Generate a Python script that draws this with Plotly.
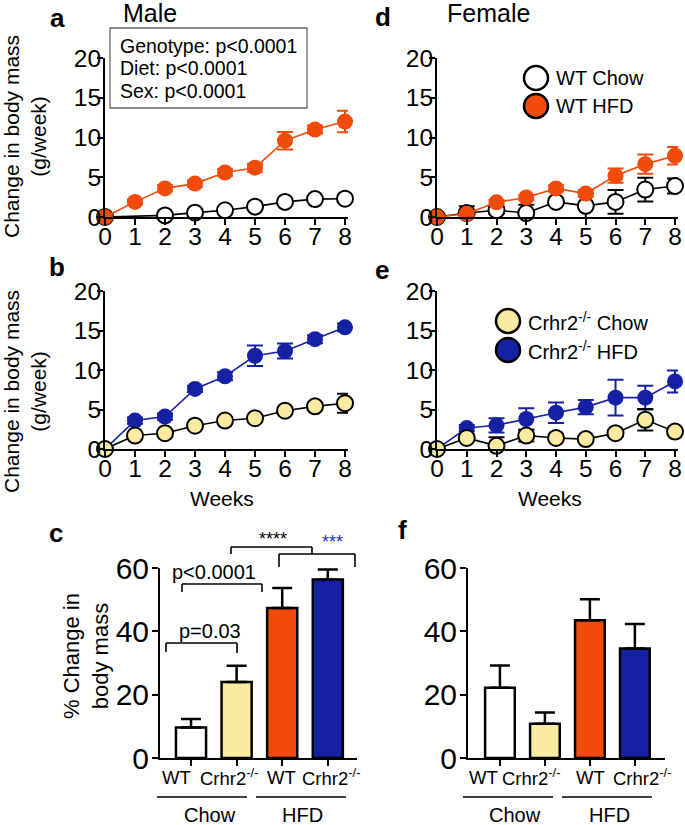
import plotly.graph_objects as go

# ---------------- data ----------------
weeks = [0, 1, 2, 3, 4, 5, 6, 7, 8]

male_wt_chow = [0, None, 0.2, 0.55, 0.85, 1.3, 1.9, 2.25, 2.3]
male_wt_chow_err = [0, 0, 0.2, 0.2, 0.2, 0.3, 0.3, 0.3, 0.4]
male_wt_hfd = [0, 1.9, 3.6, 4.2, 5.6, 6.2, 9.6, 11.0, 12.0]
male_wt_hfd_err = [0, 0.3, 0.4, 0.4, 0.4, 0.5, 1.1, 0.5, 1.35]

male_ko_chow = [0, 1.7, 2.0, 2.95, 3.6, 3.9, 4.85, 5.4, 5.8]
male_ko_chow_err = [0, 0.3, 0.3, 0.3, 0.4, 0.4, 0.4, 0.5, 1.2]
male_ko_hfd = [0, 3.6, 4.1, 7.6, 9.2, 11.8, 12.4, 13.9, 15.4]
male_ko_hfd_err = [0, 0.4, 0.4, 0.4, 0.5, 1.3, 0.95, 0.5, 0.5]

female_wt_chow = [0, 0.5, 0.85, 0.5, 1.9, 1.4, 1.9, 3.45, 3.9]
female_wt_chow_err = [0, 0.85, 0.4, 1.05, 0.4, 1.55, 1.5, 1.5, 0.95]
female_wt_hfd = [0, 0.4, 1.85, 2.45, 3.6, 2.95, 5.2, 6.65, 7.7]
female_wt_hfd_err = [0, 0.3, 0.3, 0.3, 0.4, 0.4, 0.9, 1.2, 1.1]

female_ko_chow = [0, 1.4, 0.4, 1.7, 1.4, 1.25, 2.0, 3.7, 2.2]
female_ko_chow_err = [0, 0.4, 1.1, 0.75, 0.4, 0.4, 0.4, 1.37, 0.4]
female_ko_hfd = [0, 2.65, 3.0, 3.8, 4.6, 5.3, 6.5, 6.5, 8.55]
female_ko_hfd_err = [0, 0.4, 0.9, 1.35, 1.3, 0.9, 2.25, 1.5, 1.4]

bar_groups = ["WT", "Crhr2<sup>-/-</sup>", "WT", "Crhr2<sup>-/-</sup>"]
diet_groups = ["Chow", "HFD"]
male_pct = [9.65, 24.0, 47.4, 56.4]
male_pct_err = [2.7, 5.1, 6.3, 3.1]
female_pct = [22.2, 10.8, 43.5, 34.6]
female_pct_err = [7.0, 3.6, 6.6, 7.7]

week_ticks = [0, 1, 2, 3, 4, 5, 6, 7, 8]
line_yticks = [0, 5, 10, 15, 20]
bar_yticks = [0, 20, 40, 60]

# ---------------- style ----------------
W, H = 685, 825
FONT = "Liberation Sans, Arial, sans-serif"
ORANGE = "#F04B0A"
BLUE = "#1520A3"
YELLOW = "#FAEBA0"
BLACK = "black"


def fx(px):
    return px / W


def fy(py):
    return 1 - py / H


fig = go.Figure()


def line_trace(y, err, xa, ya, fill, line_color, outline, width_err=8):
    return go.Scatter(
        x=weeks, y=y, xaxis=xa, yaxis=ya, mode="lines+markers",
        connectgaps=True, cliponaxis=False, showlegend=False,
        line=dict(color=line_color, width=1.6),
        marker=dict(size=16, color=fill,
                    line=dict(color=outline, width=2 if outline != fill else 0)),
        error_y=dict(type="data", array=err, visible=True, color=line_color,
                     thickness=2, width=width_err),
    )


# a (male WT)
fig.add_trace(line_trace(male_wt_chow, male_wt_chow_err, "x", "y", "white", BLACK, BLACK))
fig.add_trace(line_trace(male_wt_hfd, male_wt_hfd_err, "x", "y", ORANGE, ORANGE, ORANGE))
# b (male KO)
fig.add_trace(line_trace(male_ko_hfd, male_ko_hfd_err, "x2", "y2", BLUE, BLUE, BLUE))
fig.add_trace(line_trace(male_ko_chow, male_ko_chow_err, "x2", "y2", YELLOW, BLACK, BLACK))
# d (female WT)
fig.add_trace(line_trace(female_wt_chow, female_wt_chow_err, "x4", "y4", "white", BLACK, BLACK))
fig.add_trace(line_trace(female_wt_hfd, female_wt_hfd_err, "x4", "y4", ORANGE, ORANGE, ORANGE))
# e (female KO)
fig.add_trace(line_trace(female_ko_hfd, female_ko_hfd_err, "x5", "y5", BLUE, BLUE, BLUE))
fig.add_trace(line_trace(female_ko_chow, female_ko_chow_err, "x5", "y5", YELLOW, BLACK, BLACK))

bar_colors = ["white", YELLOW, ORANGE, BLUE]
for vals, errs, xa, ya in [(male_pct, male_pct_err, "x3", "y3"),
                           (female_pct, female_pct_err, "x6", "y6")]:
    fig.add_trace(go.Bar(
        x=list(range(len(vals))), y=vals, xaxis=xa, yaxis=ya, width=0.66,
        showlegend=False,
        marker=dict(color=bar_colors, line=dict(color=BLACK, width=2.5)),
        error_y=dict(type="data", array=errs, arrayminus=[0] * len(errs),
                     visible=True, color=BLACK, thickness=2.5, width=10),
    ))

axis_common = dict(showline=True, linecolor=BLACK, linewidth=2, ticks="outside",
                   ticklen=6, tickwidth=2, tickcolor=BLACK, showgrid=False,
                   zeroline=False, fixedrange=True, automargin=False,
                   tickfont=dict(size=24.5, color=BLACK, family=FONT))

layout = dict(
    template="none",
    width=W, height=H, autosize=False,
    margin=dict(l=0, r=0, t=0, b=0, pad=0),
    paper_bgcolor="white", plot_bgcolor="white",
    font=dict(family=FONT, color=BLACK),
    showlegend=False,
)

line_panels = {
    "": ((105, 348), (217, 58)),
    "2": ((105, 348), (449, 291)),
    "4": ((437, 678), (217, 58)),
    "5": ((437, 678), (449, 291)),
}
for k, ((x0, x1), (yb, yt)) in line_panels.items():
    layout["xaxis" + k] = dict(axis_common, domain=[fx(x0), fx(x1)], range=[0, 8.1],
                               tickvals=week_ticks, anchor="y" + k, ticklabelstandoff=-9)
    layout["yaxis" + k] = dict(axis_common, domain=[fy(yb), fy(yt)], range=[0, 20],
                               tickvals=line_yticks, anchor="x" + k, ticklabelstandoff=-9)

bar_panels = {
    "3": ((160, 357), (-0.68, 3.64)),
    "6": ((468, 665), (-0.71, 3.67)),
}
for k, ((x0, x1), rng) in bar_panels.items():
    layout["xaxis" + k] = dict(axis_common, domain=[fx(x0), fx(x1)], range=list(rng),
                               tickvals=[0, 1, 2, 3], showticklabels=False,
                               anchor="y" + k)
    layout["yaxis" + k] = dict(axis_common, domain=[fy(758), fy(568)], range=[0, 60],
                               tickvals=bar_yticks, anchor="x" + k, ticklabelstandoff=-3,
                               tickfont=dict(size=30, color=BLACK, family=FONT))

fig.update_layout(**layout)

ann = []
shapes = []


def text(px, py, s, size, bold=False, color=BLACK, angle=0, xanchor="center", yanchor="middle"):
    ann.append(dict(x=fx(px), y=fy(py), xref="paper", yref="paper", text=("<b>%s</b>" % s) if bold else s,
                    showarrow=False, textangle=angle, xanchor=xanchor, yanchor=yanchor,
                    font=dict(size=size, color=color, family=FONT)))


def seg(x0, y0, x1, y1, color=BLACK, width=1.6):
    shapes.append(dict(type="line", xref="paper", yref="paper", x0=fx(x0), y0=fy(y0),
                       x1=fx(x1), y1=fy(y1), line=dict(color=color, width=width)))


# panel letters and titles
for px, py, s in [(57, 18, "a"), (57, 267, "b"), (56, 533, "c"),
                  (383, 17, "d"), (382, 270, "e"), (402, 530, "f")]:
    text(px, py, s, 26, bold=True)
text(150, 13, "Male", 25)
text(488, 13, "Female", 25)

# y-axis titles
text(25, 137, "Change in body mass<br>(g/week)", 21, angle=-90)
text(25, 392, "Change in body mass<br>(g/week)", 21, angle=-90)
text(86, 656, "% Change in<br>body mass", 22, angle=-90)

# Weeks
text(222, 498, "Weeks", 21)
text(550, 498, "Weeks", 21)

# stats box in a
shapes.append(dict(type="rect", xref="paper", yref="paper", x0=fx(110), x1=fx(307),
                   y0=fy(108), y1=fy(28), line=dict(color="#666666", width=1.3),
                   fillcolor="rgba(0,0,0,0)"))
for py, s in [(46, "Genotype: p&lt;0.0001"), (68, "Diet: p&lt;0.0001"), (91, "Sex: p&lt;0.0001")]:
    text(118, py, s, 19.5, xanchor="left")

# legends
def legend_item(cx, cy, fill, label):
    shapes.append(dict(type="circle", xref="paper", yref="paper", xsizemode="pixel",
                       ysizemode="pixel", xanchor=fx(cx), yanchor=fy(cy),
                       x0=-12, x1=12, y0=-12, y1=12, fillcolor=fill,
                       line=dict(color=BLACK, width=2.5)))
    text(cx + 18, cy, label, 20, xanchor="left")


legend_item(536, 78, "white", "WT Chow")
legend_item(536, 106, ORANGE, "WT HFD")
legend_item(508, 321, YELLOW, "Crhr2<sup>-/-</sup> Chow")
legend_item(508, 350, BLUE, "Crhr2<sup>-/-</sup> HFD")

# bar category labels
for centers in ([176, 229, 281, 331], [483, 531, 590, 642]):
    for cx, s in zip(centers, bar_groups):
        text(cx, 777, s, 18.5)

# diet group lines/labels
for (c0, c1, h0, h1, ct, ht) in [(157, 247, 256, 346, 210, 302),
                                  (463, 553, 562, 652, 515, 609)]:
    seg(c0, 797, c1, 797, width=1.6)
    seg(h0, 797, h1, 797, width=1.6)
    text(ct, 815, diet_groups[0], 20)
    text(ht, 815, diet_groups[1], 20)

# significance brackets in c
# p=0.03
seg(166, 643, 237, 643); seg(166, 643, 166, 652); seg(237, 643, 237, 653)
text(210, 631, "p=0.03", 20)
# p<0.0001
seg(182, 584, 262, 584); seg(182, 584, 182, 592); seg(262, 584, 262, 592)
text(214, 572, "p&lt;0.0001", 20)
# ****
seg(231, 547, 312, 547); seg(231, 547, 231, 554); seg(312, 547, 312, 554)
text(273, 539, "****", 18)
# *** (blue)
seg(279, 554, 355, 554); seg(279, 554, 279, 567); seg(355, 554, 355, 567)
text(332, 542, "***", 18, color="#2233CC")

fig.update_layout(annotations=ann, shapes=shapes)
fig.write_html("out.html", config={"displayModeBar": False},
               post_script="document.body.style.margin='0px';document.body.style.overflow='hidden';")
